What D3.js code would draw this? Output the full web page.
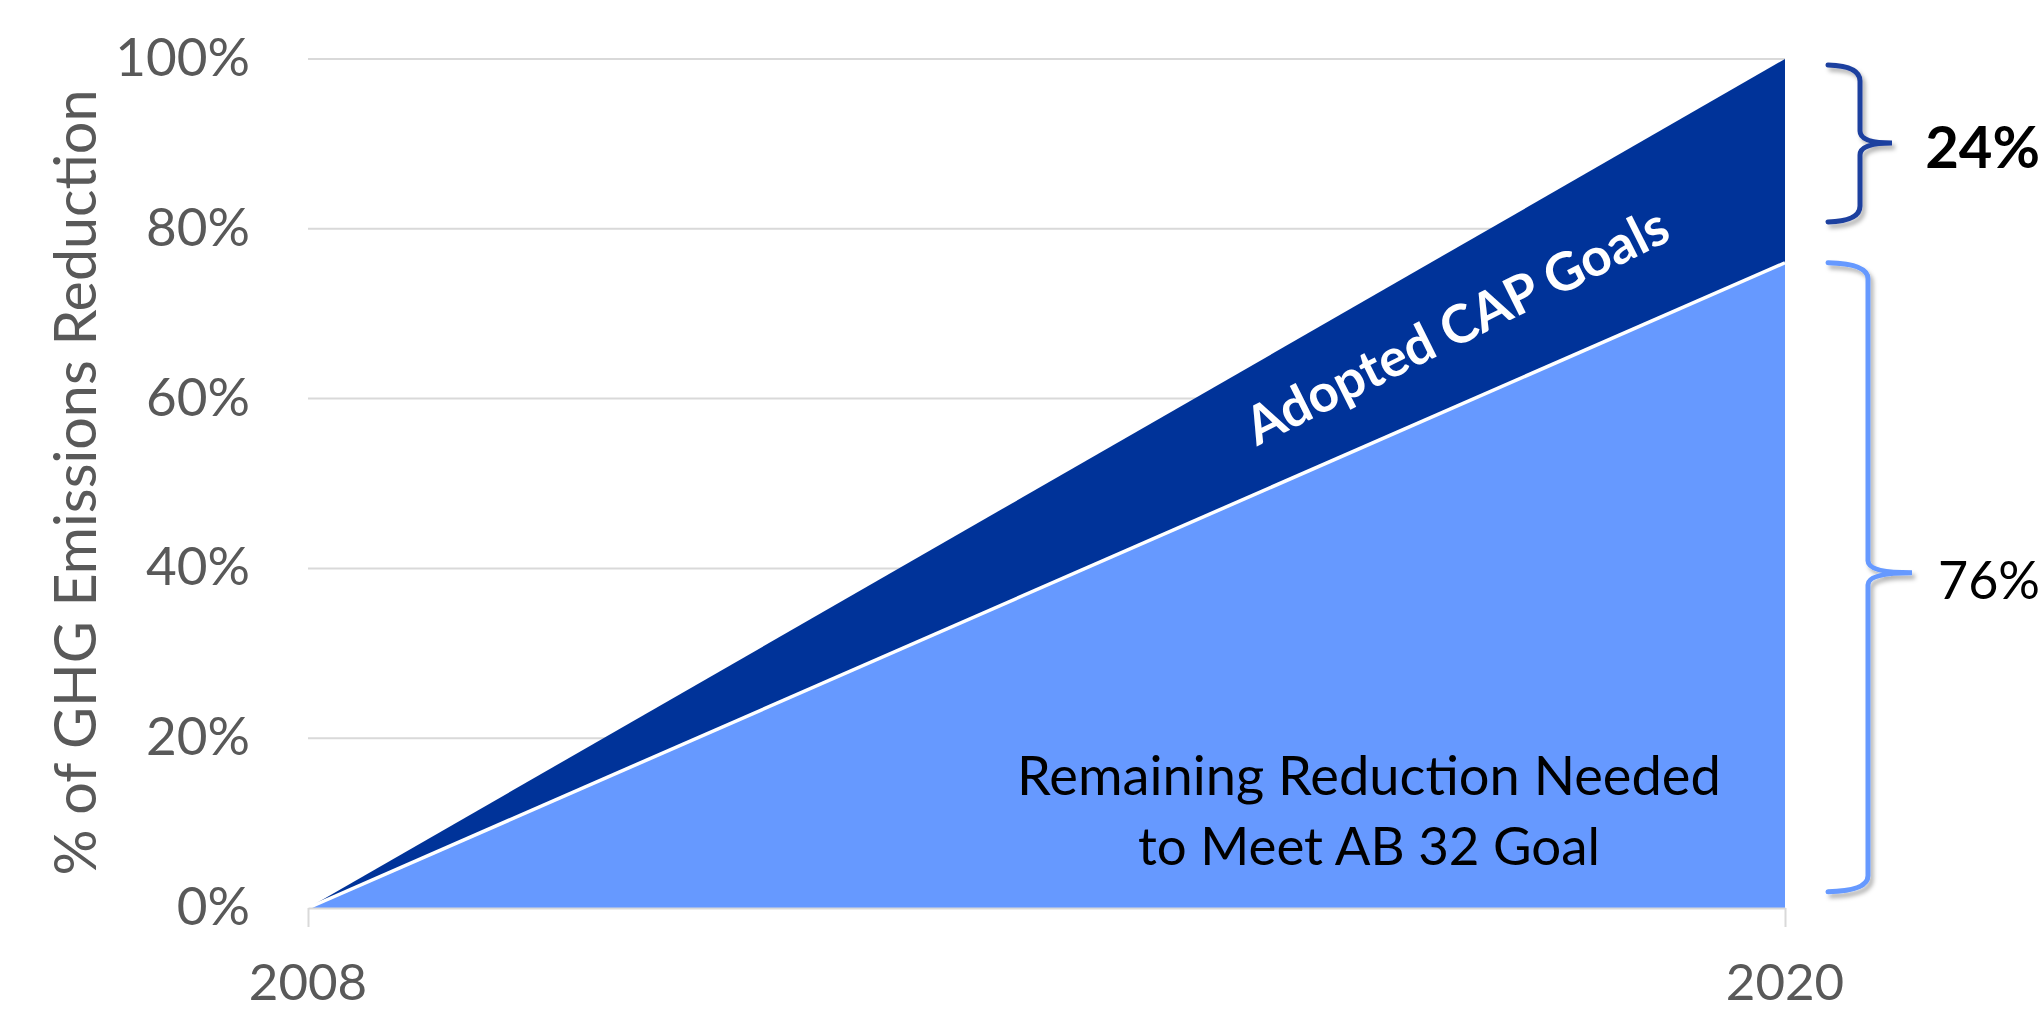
<!DOCTYPE html>
<html>
<head>
<meta charset="utf-8">
<script src="https://cdn.jsdelivr.net/npm/d3@7"></script>
<style>
  body { margin: 0; background: #fff; }
  svg { display: block; }
</style>
</head>
<body>
<svg id="chart"></svg>
<script>
// Data
const years = [2008, 2020];
const remaining = [0, 0.76];
const adopted = [0, 0.24];
const yTicks = [0, 0.2, 0.4, 0.6, 0.8, 1];
const xTicks = [2008, 2020];
const seriesKeys = ["remaining", "adopted"];

const width = 2044;
const height = 1012;
const margin = { top: 59, right: 259, bottom: 104, left: 308 };

const colors = { remaining: "#6699FF", adopted: "#003399" };
const font = "Lato, 'Open Sans', sans-serif";

const svg = d3.select("#chart").attr("width", width).attr("height", height);

// scale the font so the text takes the given width (no glyph stretching)
function fitText(sel, target) {
  sel.each(function () {
    const size = parseFloat(d3.select(this).style("font-size"));
    const len = this.getComputedTextLength();
    if (len > 0) d3.select(this).style("font-size", (size * target) / len + "px");
  });
}

// shadow for the braces
svg
  .append("defs")
  .append("filter")
  .attr("id", "braceShadow")
  .attr("x", "-50%")
  .attr("y", "-10%")
  .attr("width", "200%")
  .attr("height", "120%")
  .append("feDropShadow")
  .attr("dx", 3)
  .attr("dy", 4)
  .attr("stdDeviation", 2)
  .attr("flood-color", "#000")
  .attr("flood-opacity", 0.3);

// scales work in page pixels so every text sits at plain x / y
const x = d3
  .scaleLinear()
  .domain([2008, 2020])
  .range([margin.left, width - margin.right]);
const y = d3
  .scaleLinear()
  .domain([0, 1])
  .range([height - margin.bottom, margin.top]);

// gridlines (0% is the axis line)
svg
  .selectAll(".grid")
  .data(yTicks.filter((d) => d > 0))
  .enter()
  .append("line")
  .attr("class", "grid")
  .attr("x1", x(2008))
  .attr("x2", x(2020))
  .attr("y1", (d) => y(d))
  .attr("y2", (d) => y(d))
  .attr("stroke", "#d9d9d9")
  .attr("stroke-width", 2);

// stacked areas
const rows = years.map((yr, i) => ({
  year: yr,
  remaining: remaining[i],
  adopted: adopted[i],
}));
const stacked = d3.stack().keys(seriesKeys)(rows);

const area = d3
  .area()
  .x((d) => x(d.data.year))
  .y0((d) => y(d[0]))
  .y1((d) => y(d[1]));

svg
  .selectAll(".area")
  .data(stacked)
  .enter()
  .append("path")
  .attr("class", "area")
  .attr("d", area)
  .attr("fill", (d) => colors[d.key]);

// white edge on top of the lower series
svg
  .append("path")
  .datum(stacked[0])
  .attr(
    "d",
    d3
      .line()
      .x((d) => x(d.data.year))
      .y((d) => y(d[1]))
  )
  .attr("fill", "none")
  .attr("stroke", "#fff")
  .attr("stroke-width", 3.5);

// x axis (line and ticks from d3, labels placed from the scale below)
const xAxis = svg
  .append("g")
  .attr("transform", `translate(0, ${y(0)})`)
  .call(
    d3
      .axisBottom(x)
      .tickValues(xTicks)
      .tickFormat("")
      .tickSizeInner(19)
      .tickSizeOuter(0)
  );
xAxis.select(".domain").attr("stroke", "#d9d9d9").attr("stroke-width", 2);
xAxis.selectAll(".tick line").attr("stroke", "#d9d9d9").attr("stroke-width", 2);
xAxis.selectAll(".tick text").remove();

svg
  .selectAll(".x-label")
  .data(xTicks)
  .enter()
  .append("text")
  .attr("class", "x-label")
  .attr("x", (d) => x(d))
  .attr("y", y(0) + 92)
  .attr("text-anchor", "middle")
  .attr("fill", "#595959")
  .style("font-family", font)
  .style("font-size", "51px")
  .text(d3.format("d"));

// y axis labels
svg
  .selectAll(".y-label")
  .data(yTicks)
  .enter()
  .append("text")
  .attr("class", "y-label")
  .attr("x", x(2008) - 58)
  .attr("y", (d) => y(d) + 17)
  .attr("text-anchor", "end")
  .attr("fill", "#595959")
  .style("font-family", font)
  .style("font-size", "53px")
  .text(d3.format(".0%"));

// y axis title
const titleX = 96;
const titleY = y(0.5) - 1;
svg
  .append("text")
  .attr("x", titleX)
  .attr("y", titleY)
  .attr("transform", `rotate(-90, ${titleX}, ${titleY})`)
  .attr("text-anchor", "middle")
  .attr("fill", "#595959")
  .style("font-family", font)
  .style("font-size", "56px")
  .text("% of GHG Emissions Reduction")
  .call(fitText, 786);

// label along the dark band
const capX = x(2017.4);
const capY = y(0.666);
svg
  .append("text")
  .attr("x", capX)
  .attr("y", capY)
  .attr("transform", `rotate(-26.5, ${capX}, ${capY})`)
  .attr("text-anchor", "middle")
  .attr("fill", "#fff")
  .style("font-family", font)
  .style("font-weight", "bold")
  .style("font-size", "52px")
  .text("Adopted CAP Goals")
  .call(fitText, 465);

// label inside the light area
const remainingLines = [
  { text: "Remaining Reduction Needed", len: 704 },
  { text: "to Meet AB 32 Goal", len: 462 },
];
const remLabels = svg
  .selectAll(".remaining-label")
  .data(remainingLines)
  .enter()
  .append("text")
  .attr("class", "remaining-label")
  .attr("x", x(2016.62))
  .attr("y", (d, i) => y(0.133) + i * 70)
  .attr("text-anchor", "middle")
  .attr("fill", "#000")
  .style("font-family", font)
  .style("font-size", "52px")
  .text((d) => d.text);
remLabels.each(function (d) {
  fitText(d3.select(this), d.len);
});

// braces on the right
function bracePath(x0, xv, xt, y0, ym, y1) {
  const r = 16;
  const r2 = 12;
  return [
    `M${x0},${y0}`,
    `Q${xv},${y0 + 1} ${xv},${y0 + r}`,
    `L${xv},${ym - r2}`,
    `Q${xv},${ym} ${xt},${ym}`,
    `Q${xv},${ym} ${xv},${ym + r2}`,
    `L${xv},${y1 - r}`,
    `Q${xv},${y1 - 1} ${x0},${y1}`,
  ].join(" ");
}

const xr = x(2020);
const textRight = width - 4;
const braces = [
  {
    color: "#1F3F9F",
    from: 0.993,
    to: 0.808,
    mid: 0.901,
    dv: 75,
    dt: 107,
    label: "24%",
    dy: 25,
    weight: "bold",
    size: "58px",
  },
  {
    color: "#6699FF",
    from: 0.76,
    to: 0.019,
    mid: 0.395,
    dv: 83,
    dt: 127,
    label: "76%",
    dy: 26,
    weight: "normal",
    size: "52px",
  },
];

braces.forEach((b) => {
  svg
    .append("path")
    .attr(
      "d",
      bracePath(xr + 43, xr + b.dv, xr + b.dt, y(b.from), y(b.mid), y(b.to))
    )
    .attr("fill", "none")
    .attr("stroke", b.color)
    .attr("stroke-width", 5)
    .attr("stroke-linecap", "round")
    .attr("filter", "url(#braceShadow)");

  svg
    .append("text")
    .attr("x", textRight)
    .attr("y", y(b.mid) + b.dy)
    .attr("text-anchor", "end")
    .attr("fill", "#000")
    .style("font-family", font)
    .style("font-weight", b.weight)
    .style("font-size", b.size)
    .text(b.label);
});
</script>
</body>
</html>
